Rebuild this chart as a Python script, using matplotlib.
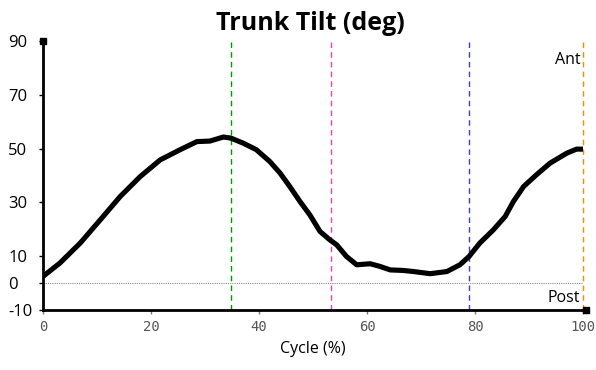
import matplotlib
matplotlib.use("Agg")
import matplotlib.pyplot as plt

cycle = [0, 3.1, 6.9, 10.6, 14.3, 18.0, 21.7, 25.4, 28.5, 30.9, 33.4, 34.8, 37.1, 39.5,
         42.0, 43.9, 45.7, 47.6, 49.4, 51.3, 53.1, 54.4, 56.2, 58.1, 60.6, 62.4, 64.3,
         66.7, 68.6, 71.7, 74.8, 77.2, 78.9, 80.9, 83.4, 85.6, 87.1, 89.0, 91.4, 93.9,
         97.0, 98.8, 100]
tilt = [2.5, 7.4, 14.9, 23.5, 32.2, 39.6, 45.8, 49.6, 52.6, 52.8, 54.3, 53.9, 52.0, 49.6,
        45.2, 40.9, 35.9, 30.3, 25.4, 19.2, 16.1, 14.2, 9.9, 6.8, 7.2, 6.2, 4.9,
        4.7, 4.3, 3.5, 4.3, 6.8, 9.9, 14.9, 19.8, 24.8, 30.3, 35.9, 40.3, 44.6,
        48.3, 49.8, 49.8]
events = [34.8, 53.3, 78.9, 100]
event_colors = ["#009900", "#ff3fa8", "#3b3bf0", "#ff8c00"]
yticks = [-10, 0, 10, 30, 50, 70, 90]
xticks = [0, 20, 40, 60, 80, 100]

fig = plt.figure(figsize=(5.96, 3.70), dpi=100)
ax = fig.add_axes([43/596, 1 - 310/370, 540/596, 269/370])
ax.set_xlim(0, 100)
ax.set_ylim(-10, 90)

for ev, c in zip(events, event_colors):
    ax.axvline(ev, color=c, lw=1.0, ls=(0, (4, 3)), zorder=1, clip_on=False)
ax.axhline(0, color="#888888", lw=0.8, ls=(0, (1, 1)), zorder=1)
ax.plot(cycle, tilt, color="black", lw=3.7, solid_capstyle="butt", zorder=3)

for s in ["top", "right"]:
    ax.spines[s].set_visible(False)
ax.spines["left"].set_linewidth(2)
ax.spines["bottom"].set_linewidth(2)
ax.plot([0], [90], marker="s", ms=4, color="black", clip_on=False)
ax.plot([100.5], [-10], marker="s", ms=4, color="black", clip_on=False)

ax.set_yticks(yticks)
ax.set_yticklabels([str(v) for v in yticks], fontsize=12, family="Open Sans")
ax.tick_params(axis="y", length=3, width=1, pad=22, direction="out")
for lab in ax.get_yticklabels():
    lab.set_ha("left")

ax.set_xticks(xticks)
ax.set_xticklabels([str(v) for v in xticks], fontsize=10, family="DejaVu Sans Mono", color="#555555")
ax.tick_params(axis="x", length=3, width=1, color="#777777", pad=4)

ax.set_xlabel("Cycle (%)", fontsize=11.5, family="Open Sans", labelpad=5)
fig.text(0.52, 0.937, "Trunk Tilt (deg)", ha="center", va="center", fontsize=18,
         fontweight="bold", family="Open Sans")

ax.text(99.5, 83, "Ant", ha="right", va="center", fontsize=11.5, family="Open Sans")
ax.text(99.5, -5.5, "Post", ha="right", va="center", fontsize=11.5, family="Open Sans")

fig.savefig("out.png", dpi=100)
